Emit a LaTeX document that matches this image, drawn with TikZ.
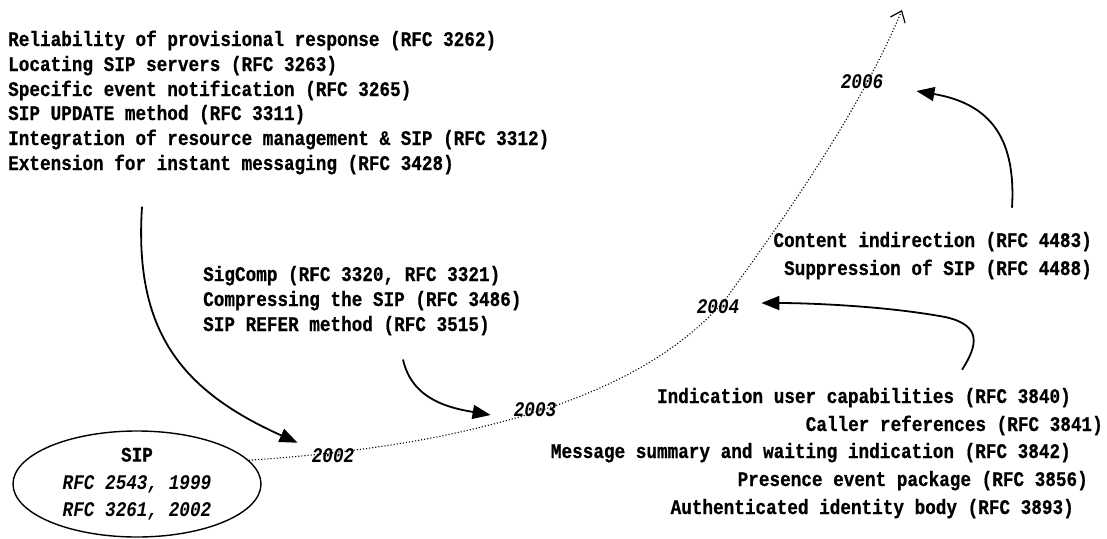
\documentclass[tikz,border=0pt]{standalone}
\usepackage{fontspec}
\usetikzlibrary{arrows.meta,calc,shapes.geometric}
\newfontfamily\monofont[FakeStretch=0.85,BoldFeatures={FakeBold=0.6}]{Liberation Mono}
\newcommand{\lblfont}{\monofont\bfseries\fontsize{20.8}{25}\selectfont}
\newcommand{\yrfont}{\monofont\bfseries\itshape\fontsize{20.8}{25}\selectfont}
\tikzset{
  rfcline/.style={font=\lblfont, inner sep=0pt, anchor=base west},
  rfclineR/.style={font=\lblfont, inner sep=0pt, anchor=base east},
  year/.style={font=\yrfont, inner sep=0pt},
  timeline/.style={line width=1.1pt, dotted, -{Straight Barb[length=10pt,width=16pt,line width=1.2pt]}},
  feed/.style={line width=1.8pt, -{Triangle[length=18pt,width=14pt]}},
  origin/.style={draw, ellipse, line width=1.4pt, minimum width=248pt, minimum height=106pt,
    align=center, inner sep=0pt, font=\monofont\bfseries\fontsize{20.8}{27.5}\selectfont},
}
\begin{document}
\begin{tikzpicture}[x=1pt,y=-1pt]
\fill[white] (0,0) rectangle (1107,538);
\useasboundingbox (0,0) rectangle (1107,538);

% core specification
\node[origin] (sip) at (137,484) {SIP\\{\itshape RFC 2543, 1999}\\{\itshape RFC 3261, 2002}};

% year marks along the timeline
\node[year] (y2002) at (333,456) {2002};
\node[year] (y2003) at (535,410) {2003};
\node[year] (y2004) at (718,307) {2004};
\node[year] (y2006) at (862,82) {2006};
\coordinate (tip) at (902,10);

% 2002 extensions
\node[rfcline] (rel)   at (8,46)  {Reliability of provisional response (RFC 3262)};
\node[rfcline] (loc)   at (8,71)  {Locating SIP servers (RFC 3263)};
\node[rfcline] (spec)  at (8,96)  {Specific event notification (RFC 3265)};
\node[rfcline] (upd)   at (8,120) {SIP UPDATE method (RFC 3311)};
\node[rfcline] (integ) at (8,145) {Integration of resource management \& SIP (RFC 3312)};
\node[rfcline] (ext)   at (8,170) {Extension for instant messaging (RFC 3428)};

% 2003 extensions
\node[rfcline] (sig)   at (203,281) {SigComp (RFC 3320, RFC 3321)};
\node[rfcline] (comp)  at (203,306) {Compressing the SIP (RFC 3486)};
\node[rfcline] (refer) at (203,331) {SIP REFER method (RFC 3515)};

% 2006 extensions
\node[rfclineR] (cont) at (1092,247) {Content indirection (RFC 4483)};
\node[rfclineR] (supp) at (1092,275) {Suppression of SIP (RFC 4488)};

% 2004 extensions
\node[rfclineR] (ind)  at (1071,403) {Indication user capabilities (RFC 3840)};
\node[rfclineR] (call) at (1103,431) {Caller references (RFC 3841)};
\node[rfclineR] (msg)  at (1071,458) {Message summary and waiting indication (RFC 3842)};
\node[rfclineR] (pres) at (1088,486) {Presence event package (RFC 3856)};
\node[rfclineR] (auth) at (1074,514) {Authenticated identity body (RFC 3893)};

% timeline
\draw[timeline] (sip.12) .. controls (400,450) and (490,428) .. (560,404)
  .. controls (640,375) and (690,340) .. (725,300)
  .. controls (790,210) and (860,110) .. (tip);

% feeds into the timeline
\draw[feed] ($(ext.south west)+(134,32)$) .. controls (134,330) and (180,390) .. ($(y2002.north west)+(-14,-6)$);
\draw[feed] ($(refer.south west)+(200,24)$) .. controls (412,400) and (450,408) .. ($(y2003.west)+(-23,5)$);
\draw[feed] ($(ind.north east)+(-109,-18)$) .. controls (978,345) and (982,325) .. (945,317)
  .. controls (880,305) and (800,303) .. ($(y2004.east)+(22,-4)$);
\draw[feed] ($(cont.north east)+(-80,-24)$) .. controls (1016,140) and (992,104) .. ($(y2006.east)+(33,9)$);
\end{tikzpicture}
\end{document}
